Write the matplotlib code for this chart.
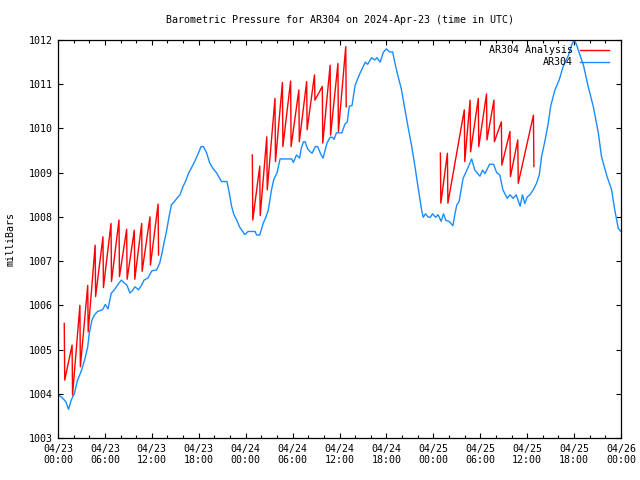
import numpy as np
import matplotlib
matplotlib.use("Agg")
import matplotlib.pyplot as plt

# horas desde 2024-04-23 00:00 UTC
blue_t = [0.0, 0.5, 1.0, 1.35, 1.7, 2.1, 2.5, 2.95, 3.4, 3.8, 4.0, 4.35, 4.65, 5.05, 5.7,
          6.05, 6.4, 6.8, 7.2, 7.7, 8.1, 8.5, 8.8, 9.2, 9.5, 9.85, 10.3, 10.7, 11.0, 11.5,
          12.0, 12.6, 13.0, 13.3, 13.6, 13.9, 14.2, 14.5, 14.9, 15.2, 15.6, 16.0, 16.3, 16.7,
          17.1, 17.5, 17.9, 18.3, 18.6, 19.0, 19.4, 19.8, 20.3, 20.9, 21.6, 21.9, 22.2, 22.5,
          22.85, 23.2, 23.5, 23.9, 24.3, 24.8, 25.2, 25.4, 25.8, 26.25, 26.6, 26.9, 27.3, 27.6,
          28.0, 28.4, 29.9, 30.1, 30.5, 30.9, 31.1, 31.4, 31.6, 31.9, 32.2, 32.5, 32.9, 33.2,
          33.6, 33.9, 34.4, 34.8, 35.1, 35.3, 35.6, 36.3, 36.7, 37.0, 37.25, 37.6, 38.0, 38.6,
          39.3, 39.6, 40.1, 40.5, 40.8, 41.2, 41.6, 42.0, 42.4, 42.8, 43.1, 43.5, 43.9, 44.2,
          44.5, 44.8, 45.2, 45.65, 46.1, 46.5, 46.7, 47.0, 47.3, 47.6, 47.9, 48.3, 48.6, 49.0,
          49.3, 49.6, 50.0, 50.5, 50.8, 51.0, 51.3, 51.8, 52.3, 52.9, 53.3, 53.96, 54.3, 54.6,
          55.2, 55.7, 56.1, 56.5, 56.9, 57.45, 57.8, 58.2, 58.6, 59.1, 59.4, 59.7, 60.0, 60.35,
          60.8, 61.2, 61.55, 61.85, 62.3, 62.7, 63.0, 63.55, 64.1, 64.6, 65.3, 65.7, 66.0, 66.3,
          66.75, 67.2, 67.8, 68.45, 69.1, 69.5, 70.2, 70.8, 71.2, 71.65, 72.0]
blue_p = [1003.97, 1003.92, 1003.82, 1003.65, 1003.86, 1004.01, 1004.31, 1004.50, 1004.76,
          1005.06, 1005.37, 1005.67, 1005.78, 1005.86, 1005.90, 1006.02, 1005.92, 1006.27,
          1006.35, 1006.48, 1006.57, 1006.50, 1006.46, 1006.28, 1006.33, 1006.42, 1006.35,
          1006.46, 1006.57, 1006.62, 1006.78, 1006.80, 1006.95, 1007.18, 1007.45, 1007.70,
          1008.00, 1008.27, 1008.35, 1008.42, 1008.50, 1008.69, 1008.80, 1008.99, 1009.12,
          1009.26, 1009.42, 1009.59, 1009.59, 1009.45, 1009.22, 1009.10, 1008.99, 1008.80,
          1008.80, 1008.55, 1008.24, 1008.05, 1007.93, 1007.78, 1007.70, 1007.60, 1007.67,
          1007.67, 1007.67, 1007.59, 1007.59, 1007.86, 1008.00, 1008.16, 1008.61, 1008.85,
          1008.99, 1009.31, 1009.31, 1009.23, 1009.40, 1009.33, 1009.55, 1009.70, 1009.70,
          1009.55, 1009.48, 1009.44, 1009.59, 1009.59, 1009.42, 1009.33, 1009.67, 1009.80,
          1009.80, 1009.75, 1009.90, 1009.90, 1010.10, 1010.15, 1010.50, 1010.52, 1010.98,
          1011.24, 1011.50, 1011.45, 1011.60, 1011.55, 1011.60, 1011.50, 1011.72, 1011.80,
          1011.73, 1011.73, 1011.47, 1011.17, 1010.90, 1010.60, 1010.30, 1010.00, 1009.63,
          1009.14, 1008.61, 1008.16, 1007.99, 1008.07, 1008.00, 1007.99, 1008.07, 1007.99,
          1008.05, 1007.90, 1008.07, 1007.92, 1007.90, 1007.80, 1008.10, 1008.27, 1008.35,
          1008.87, 1009.06, 1009.31, 1009.06, 1008.92, 1009.06, 1008.98, 1009.19, 1009.19,
          1009.00, 1008.95, 1008.61, 1008.42, 1008.50, 1008.42, 1008.50, 1008.24, 1008.50,
          1008.30, 1008.45, 1008.50, 1008.62, 1008.76, 1008.95, 1009.37, 1009.74, 1010.12,
          1010.50, 1010.87, 1011.10, 1011.40, 1011.66, 1011.89, 1012.00, 1011.90, 1011.66,
          1011.43, 1010.95, 1010.50, 1009.90, 1009.37, 1008.92, 1008.61, 1008.16, 1007.74,
          1007.67]

# analisis: picos y valores tras la caida, por tramo
red1_t = [0.8, 1.8, 2.8, 3.8, 4.75, 5.75, 6.78, 7.8, 8.78, 9.76, 10.7, 11.76, 12.8]
red1_peak = [1005.59, 1005.10, 1006.00, 1006.45, 1007.36, 1007.55, 1007.85, 1007.93,
             1007.72, 1007.70, 1007.85, 1008.00, 1008.29]
red1_low = [1004.31, 1003.97, 1004.61, 1005.40, 1006.20, 1006.40, 1006.54, 1006.65,
            1006.59, 1006.59, 1006.77, 1006.91, 1007.14]

red2_t = [24.85, 25.8, 26.7, 27.75, 28.7, 29.75, 30.8, 31.8, 32.8, 33.8, 34.8, 35.8, 36.8]
red2_peak = [1009.40, 1009.15, 1009.81, 1010.68, 1011.04, 1011.07, 1010.87, 1011.06,
             1011.21, 1010.95, 1011.43, 1011.47, 1011.85]
red2_low = [1007.93, 1008.03, 1008.61, 1009.25, 1009.59, 1009.59, 1009.70, 1009.97,
            1010.64, 1009.67, 1009.85, 1009.93, 1010.49]

red3_t = [48.9, 49.8, 51.96, 52.7, 53.75, 54.8, 55.75, 56.7, 57.8, 58.8, 60.8]
red3_peak = [1009.44, 1009.44, 1010.42, 1010.64, 1010.68, 1010.78, 1010.64, 1010.15,
             1009.93, 1009.74, 1010.30]
red3_low = [1008.31, 1008.31, 1009.25, 1009.47, 1009.59, 1009.74, 1009.70, 1009.17,
            1008.91, 1008.76, 1009.14]

tick_labels = ["04/23\n00:00", "04/23\n06:00", "04/23\n12:00", "04/23\n18:00",
               "04/24\n00:00", "04/24\n06:00", "04/24\n12:00", "04/24\n18:00",
               "04/25\n00:00", "04/25\n06:00", "04/25\n12:00", "04/25\n18:00",
               "04/26\n00:00"]


def sawtooth(ts, peaks, lows):
    # pico -> caida casi vertical -> subida hasta el siguiente pico
    xs, ys = [], []
    for t, hi, lo in zip(ts, peaks, lows):
        xs += [t, t + 0.06]
        ys += [hi, lo]
    return xs, ys


FS = 7.2
plt.rcParams['font.family'] = ['DejaVu Sans Mono']
fig = plt.figure(figsize=(6.4, 4.8), dpi=100)
ax = fig.add_axes([58 / 640, 1 - 438 / 480, 563 / 640, 398 / 480])

first = True
for ts, pk, lo in [(red1_t, red1_peak, red1_low), (red2_t, red2_peak, red2_low),
                   (red3_t, red3_peak, red3_low)]:
    xs, ys = sawtooth(ts, pk, lo)
    ax.plot(xs, ys, color='#ff0000', lw=1.0, label='AR304 Analysis' if first else None)
    first = False
ax.plot(blue_t, blue_p, color='#1a8cff', lw=1.0, label='AR304')

ax.set_xlim(0, 72)
ax.set_ylim(1003, 1012)
ax.set_xticks(np.arange(0, 73, 6))
ax.set_xticks(np.arange(0, 73, 2), minor=True)
ax.set_xticklabels(tick_labels)
ax.set_yticks(np.arange(1003, 1013, 1))
ax.tick_params(which='both', direction='in', top=True, right=True, labelsize=FS, width=0.8)
ax.tick_params(which='major', length=3.5, pad=4)
ax.tick_params(which='minor', length=2)
for s in ax.spines.values():
    s.set_linewidth(0.9)

ax.set_title('Barometric Pressure for AR304 on 2024-Apr-23 (time in UTC)', fontsize=FS, pad=12.5)
ax.set_ylabel('milliBars', fontsize=FS, labelpad=9)

ax.legend(loc='upper right', bbox_to_anchor=(1 - 5 / 563, 1 + 1.5 / 398),
          markerfirst=False, frameon=False, fontsize=FS,
          handlelength=2.9, labelspacing=0.2, borderaxespad=0.3, handletextpad=0.7)

fig.savefig('out.png', dpi=100)
